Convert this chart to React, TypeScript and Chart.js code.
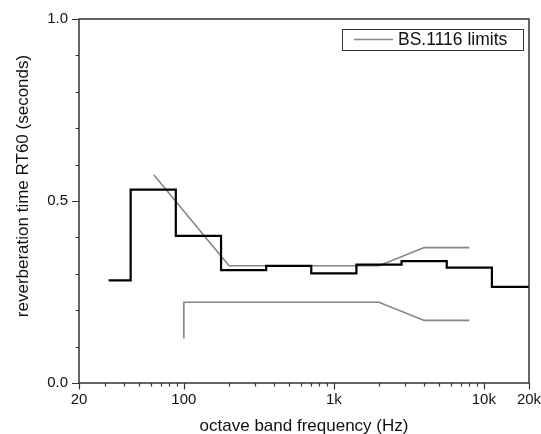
import React, { useEffect, useRef } from 'react';
import { Chart, registerables } from 'chart.js';

Chart.register(...registerables);

// Measured octave-band reverberation time (step edges, Hz) and values (s)
const bandEdgesHz = [31.5, 44.2, 88.4, 177, 354, 707, 1414, 2828, 5657, 11314, 20000];
const rt60Seconds = [0.282, 0.531, 0.404, 0.31, 0.322, 0.301, 0.325, 0.335, 0.317, 0.264, 0.264];

// BS.1116 tolerance limits
const upperLimitHz = [63, 200, 2000, 4000, 8000];
const upperLimitS = [0.572, 0.322, 0.322, 0.372, 0.372];
const lowerLimitHz = [100, 100, 2000, 4000, 8000];
const lowerLimitS = [0.122, 0.222, 0.222, 0.172, 0.172];

// Axis ticks
const xTickValues = [
  20, 30, 40, 50, 60, 70, 80, 90,
  100, 200, 300, 400, 500, 600, 700, 800, 900,
  1000, 2000, 3000, 4000, 5000, 6000, 7000, 8000, 9000,
  10000, 20000,
];
const xLabelValues = [20, 100, 1000, 10000, 20000];
const xLabelTexts = ['20', '100', '1k', '10k', '20k'];
const yTickValues = [0, 0.1, 0.2, 0.3, 0.4, 0.5, 0.6, 0.7, 0.8, 0.9, 1.0];
const yLabelValues = [0, 0.5, 1.0];
const yLabelTexts = ['0.0', '0.5', '1.0'];

const legendText = 'BS.1116 limits';
const xTitle = 'octave band frequency (Hz)';
const yTitle = 'reverberation time RT60 (seconds)';

const FONT = '"Liberation Sans", Arial, Helvetica, sans-serif';
const AXIS_COLOR = '#333333';
const GRAY = '#858585';

function toPoints(xs: number[], ys: number[]) {
  return xs.map((x, i) => ({ x, y: ys[i] }));
}

function isLabelValue(list: number[], v: number) {
  return list.some((l) => Math.abs(l - v) < 1e-6);
}

const framePlugin = {
  id: 'frameAndTicks',
  afterDraw(chart: any) {
    const { ctx, chartArea } = chart;
    const xs = chart.scales.x;
    const ys = chart.scales.y;
    ctx.save();
    ctx.strokeStyle = AXIS_COLOR;
    ctx.lineWidth = 1.5;
    ctx.strokeRect(chartArea.left, chartArea.top, chartArea.right - chartArea.left, chartArea.bottom - chartArea.top);
    ctx.lineWidth = 1.2;
    ctx.beginPath();
    xTickValues.forEach((v) => {
      const px = Math.round(xs.getPixelForValue(v)) + 0.5;
      const len = isLabelValue(xLabelValues, v) ? 6.5 : 3.5;
      ctx.moveTo(px, chartArea.bottom);
      ctx.lineTo(px, chartArea.bottom + len);
    });
    yTickValues.forEach((v) => {
      const py = Math.round(ys.getPixelForValue(v)) + 0.5;
      const len = isLabelValue(yLabelValues, v) ? 7 : 3.5;
      ctx.moveTo(chartArea.left, py);
      ctx.lineTo(chartArea.left - len, py);
    });
    ctx.stroke();

    // legend box
    const bx = 342.5, by = 29.5, bw = 181, bh = 21;
    ctx.fillStyle = '#ffffff';
    ctx.fillRect(bx, by, bw, bh);
    ctx.strokeStyle = AXIS_COLOR;
    ctx.lineWidth = 1;
    ctx.strokeRect(bx, by, bw, bh);
    ctx.strokeStyle = GRAY;
    ctx.lineWidth = 1.5;
    ctx.beginPath();
    ctx.moveTo(354, 39.5);
    ctx.lineTo(393, 39.5);
    ctx.stroke();
    ctx.fillStyle = '#111111';
    ctx.font = `17.5px ${FONT}`;
    ctx.textAlign = 'left';
    ctx.textBaseline = 'middle';
    ctx.fillText(legendText, 398, 40.5);

    // y title
    ctx.translate(23, 186);
    ctx.rotate(-Math.PI / 2);
    ctx.textAlign = 'center';
    ctx.textBaseline = 'middle';
    ctx.font = `17px ${FONT}`;
    ctx.fillText(yTitle, 0, 0);
    ctx.restore();
  },
};

export default function App() {
  const ref = useRef<HTMLCanvasElement | null>(null);

  useEffect(() => {
    document.body.style.margin = '0';
    const canvas = ref.current;
    if (!canvas) return;
    Chart.defaults.font.family = FONT;
    const chart = new Chart(canvas, {
      type: 'line',
      data: {
        datasets: [
          {
            label: 'RT60',
            data: toPoints(bandEdgesHz, rt60Seconds),
            borderColor: '#000000',
            borderWidth: 2.2,
            stepped: 'before',
            pointRadius: 0,
            fill: false,
            borderJoinStyle: 'miter',
          },
          {
            label: legendText,
            data: toPoints(upperLimitHz, upperLimitS),
            borderColor: GRAY,
            borderWidth: 1.6,
            pointRadius: 0,
            fill: false,
            tension: 0,
          },
          {
            label: legendText + ' (lower)',
            data: toPoints(lowerLimitHz, lowerLimitS),
            borderColor: GRAY,
            borderWidth: 1.6,
            pointRadius: 0,
            fill: false,
            tension: 0,
          },
        ],
      },
      options: {
        animation: false,
        responsive: false,
        maintainAspectRatio: false,
        layout: { padding: { top: 19, right: 12, left: 0, bottom: 0 } },
        plugins: {
          legend: { display: false },
          tooltip: { enabled: false },
        },
        scales: {
          x: {
            type: 'logarithmic',
            min: 20,
            max: 20000,
            border: { display: false },
            grid: { display: false, drawTicks: false },
            afterBuildTicks: (scale: any) => {
              scale.ticks = xTickValues.map((v) => ({ value: v }));
            },
            afterFit: (scale: any) => {
              scale.height = 51;
              scale.paddingLeft = 0;
              scale.paddingRight = 0;
            },
            ticks: {
              source: 'data',
              autoSkip: false,
              maxRotation: 0,
              minRotation: 0,
              padding: 8,
              color: '#111111',
              font: { size: 15 },
              callback: (v: any) => {
                const i = xLabelValues.findIndex((l) => Math.abs(l - Number(v)) < 1e-6);
                return i >= 0 ? xLabelTexts[i] : '';
              },
            },
            title: {
              display: true,
              text: xTitle,
              color: '#111111',
              font: { size: 17 },
              padding: { top: 0, bottom: -3 },
            },
          },
          y: {
            type: 'linear',
            min: 0,
            max: 1,
            border: { display: false },
            grid: { display: false, drawTicks: false },
            afterBuildTicks: (scale: any) => {
              scale.ticks = yTickValues.map((v) => ({ value: v }));
            },
            afterFit: (scale: any) => {
              scale.width = 79;
              scale.paddingTop = 0;
              scale.paddingBottom = 0;
            },
            ticks: {
              source: 'data',
              autoSkip: false,
              padding: 11,
              color: '#111111',
              font: { size: 15 },
              callback: (v: any) => {
                const i = yLabelValues.findIndex((l) => Math.abs(l - Number(v)) < 1e-6);
                return i >= 0 ? yLabelTexts[i] : '';
              },
            },
          },
        },
      },
      plugins: [framePlugin],
    } as any);
    return () => chart.destroy();
  }, []);

  return (
    <canvas ref={ref} width={541} height={434} style={{ display: 'block', width: 541, height: 434 }} />
  );
}
